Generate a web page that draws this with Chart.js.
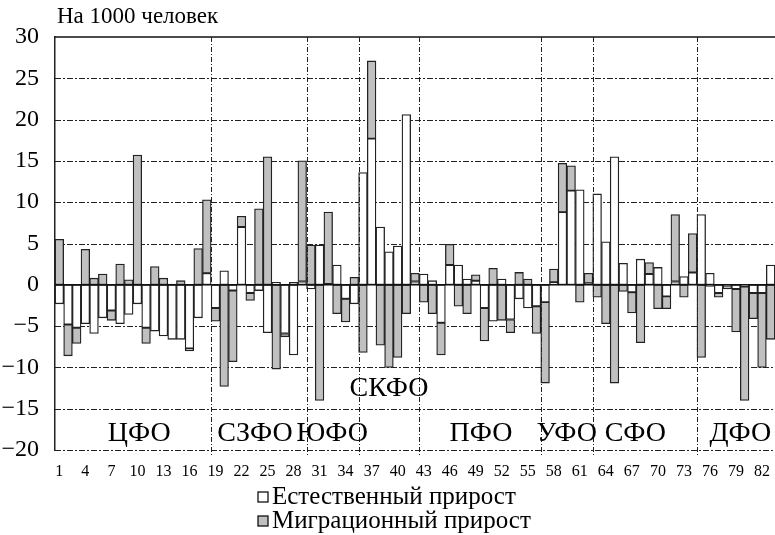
<!DOCTYPE html>
<html><head><meta charset="utf-8">
<script src="https://cdn.jsdelivr.net/npm/chart.js@4/dist/chart.umd.min.js"></script>
<style>html,body{margin:0;padding:0;background:#fff;overflow:hidden}</style>
</head><body>
<canvas id="c" width="775" height="535" style="display:block;width:775px;height:535px"></canvas>
<script>
const regions = ['1','2','3','4','5','6','7','8','9','10','11','12','13','14','15','16','17','18','19','20',
'21','22','23','24','25','26','27','28','29','30','31','32','33','34','35','36','37','38','39','40',
'41','42','43','44','45','46','47','48','49','50','51','52','53','54','55','56','57','58','59','60',
'61','62','63','64','65','66','67','68','69','70','71','72','73','74','75','76','77','78','79','80',
'81','82','83'];
const shownTicks = ['1','4','7','10','13','16','19','22','25','28','31','34','37','40','43','46','49','52','55','58','61','64','67','70','73','76','79','82'];
const natural = [-2.3,-4.8,-5.2,-4.7,-5.9,-4.0,-3.1,-4.7,-3.6,-2.3,-5.2,-5.6,-6.2,-6.6,-6.6,-7.7,-4.0,1.4,
-2.8,1.7,-0.7,7.0,-1.0,-0.7,-5.8,0.3,-5.9,-8.5,0.4,
-0.5,4.8,0.1,2.4,-1.7,-2.3,
13.6,17.7,7.0,4.0,4.7,20.6,0.4,
1.3,0.5,-4.6,2.4,2.4,0.7,0.5,-2.8,-4.4,0.7,-4.2,-1.7,-2.8,-2.6,
-2.1,0.3,8.8,11.4,11.5,0.2,
11.0,5.2,15.5,2.6,-0.9,3.1,1.3,2.1,-1.4,0.4,1.0,1.5,
8.5,1.4,-1.0,-0.1,-0.5,-0.2,-1.0,-1.0,2.4];
const migration = [5.5,-3.8,-1.9,4.3,0.8,1.3,-1.2,2.5,0.6,15.7,-1.9,2.2,0.8,0.1,0.5,-0.3,4.4,8.9,
-1.6,-12.3,-8.6,1.3,-0.9,9.2,15.5,-10.2,-0.4,0.3,14.6,
4.8,-14.0,8.7,-3.5,-2.8,0.9,
-8.2,9.4,-7.3,-10.0,-8.8,-3.5,1.0,
-2.1,-3.5,-3.9,2.5,-2.6,-3.5,0.7,-4.0,2.0,-4.3,-1.6,1.5,0.7,-3.3,
-9.8,1.6,5.9,3.0,-2.1,1.2,
-1.5,-4.7,-11.9,-0.8,-2.5,-7.0,1.4,-2.9,-1.5,8.1,-1.5,4.7,
-8.8,-0.2,-0.5,-0.4,-5.2,-13.8,-3.1,-9.0,-6.6];
const districtNames = ['ЦФО','СЗФО','ЮФО','СКФО','ПФО','УФО','СФО','ДФО'];
const districtStarts = [1,19,30,36,43,57,63,75];
const districtLabelX = [9.2,22.55,31.45,38.0,48.6,58.5,66.4,78.5];
const districtLabelY = [-18,-18,-18,-12.6,-18,-18,-18,-18];
const seriesNames = ['Естественный прирост','Миграционный прирост'];

const SERIF = '"Liberation Serif", "DejaVu Serif", serif';

const overlay = {
  id: 'overlay',
  beforeDatasetsDraw(chart){
    const {ctx, chartArea:a, scales:{y}} = chart;
    ctx.save();
    ctx.strokeStyle = '#222'; ctx.lineWidth = 1;
    ctx.setLineDash([6,2,2,2]);
    y.ticks.forEach(t=>{
      if (t.value === 0 || t.value === 30) return;
      const py = Math.round(y.getPixelForValue(t.value)) + 0.5;
      ctx.beginPath(); ctx.moveTo(a.left, py); ctx.lineTo(a.right, py); ctx.stroke();
    });
    ctx.restore();
  },
  afterDatasetsDraw(chart){
    const {ctx, chartArea:a, scales:{x,y}} = chart;
    ctx.save();
    ctx.strokeStyle = '#111'; ctx.lineWidth = 1.5; ctx.setLineDash([]);
    const y0 = y.getPixelForValue(0);
    ctx.beginPath(); ctx.moveTo(a.left, y0); ctx.lineTo(a.right, y0); ctx.stroke();
    const yt = y.getPixelForValue(30);
    ctx.beginPath(); ctx.moveTo(a.left, yt); ctx.lineTo(a.right, yt); ctx.stroke();
    ctx.lineWidth = 1; ctx.strokeStyle = '#222';
    ctx.setLineDash([5,2,1,2]);
    districtStarts.slice(1).forEach(s=>{
      const px = Math.round((x.getPixelForValue(s-2) + x.getPixelForValue(s-1))/2) + 0.5;
      ctx.beginPath(); ctx.moveTo(px, a.top); ctx.lineTo(px, a.bottom + 6); ctx.stroke();
    });
    ctx.setLineDash([]);
    ctx.fillStyle = '#000';
    ctx.font = '28px ' + SERIF;
    ctx.textAlign = 'center'; ctx.textBaseline = 'middle';
    districtNames.forEach((n,i)=>{
      ctx.fillText(n, x.getPixelForValue(districtLabelX[i]), y.getPixelForValue(districtLabelY[i]));
    });
    // title
    ctx.textAlign = 'left';
    ctx.font = '23px ' + SERIF;
    ctx.fillText('На 1000 человек', a.left + 2, 17);
    // legend
    ctx.font = '25px ' + SERIF;
    const lx = 258, ly = [497, 521];
    const fills = ['#ffffff', '#c0c0c0'];
    seriesNames.forEach((n,i)=>{
      ctx.fillStyle = fills[i];
      ctx.fillRect(lx, ly[i]-5, 10, 10);
      ctx.strokeStyle = '#111'; ctx.lineWidth = 1.3;
      ctx.strokeRect(lx, ly[i]-5, 10, 10);
      ctx.fillStyle = '#000';
      ctx.fillText(n, lx + 14, ly[i]);
    });
    ctx.restore();
  }
};

new Chart(document.getElementById('c'), {
  type: 'bar',
  data: {
    labels: regions,
    datasets: [
      {label: seriesNames[0], data: natural, backgroundColor: '#ffffff', borderColor: '#222', borderWidth: 1.3, borderSkipped: false},
      {label: seriesNames[1], data: migration, backgroundColor: '#c0c0c0', borderColor: '#222', borderWidth: 1.3, borderSkipped: false}
    ]
  },
  options: {
    responsive: false,
    devicePixelRatio: 1,
    animation: false,
    layout: {padding: {top: 37, left: 0, right: 0, bottom: 0}},
    datasets: {bar: {categoryPercentage: 1, barPercentage: 1}},
    plugins: {legend: {display: false}, tooltip: {enabled: false}, title: {display: false}},
    scales: {
      x: {
        stacked: true,
        grid: {display: false},
        border: {display: false},
        ticks: {
          autoSkip: false, maxRotation: 0, minRotation: 0, padding: 4,
          color: '#000', font: {family: SERIF, size: 16},
          callback: function(v, i){ const l = regions[i]; return shownTicks.includes(l) ? l : ''; }
        },
        afterFit: s => { s.height = 85; }
      },
      y: {
        stacked: true,
        min: -20, max: 30,
        grid: {display: false},
        border: {display: true, color: '#222', width: 1.5},
        ticks: {
          stepSize: 5, color: '#000', padding: 8,
          font: {family: SERIF, size: 24},
          callback: v => String(v).replace('-', '\u2212')
        },
        afterFit: s => { s.width = 55; }
      }
    }
  },
  plugins: [overlay]
});
</script>
</body></html>
